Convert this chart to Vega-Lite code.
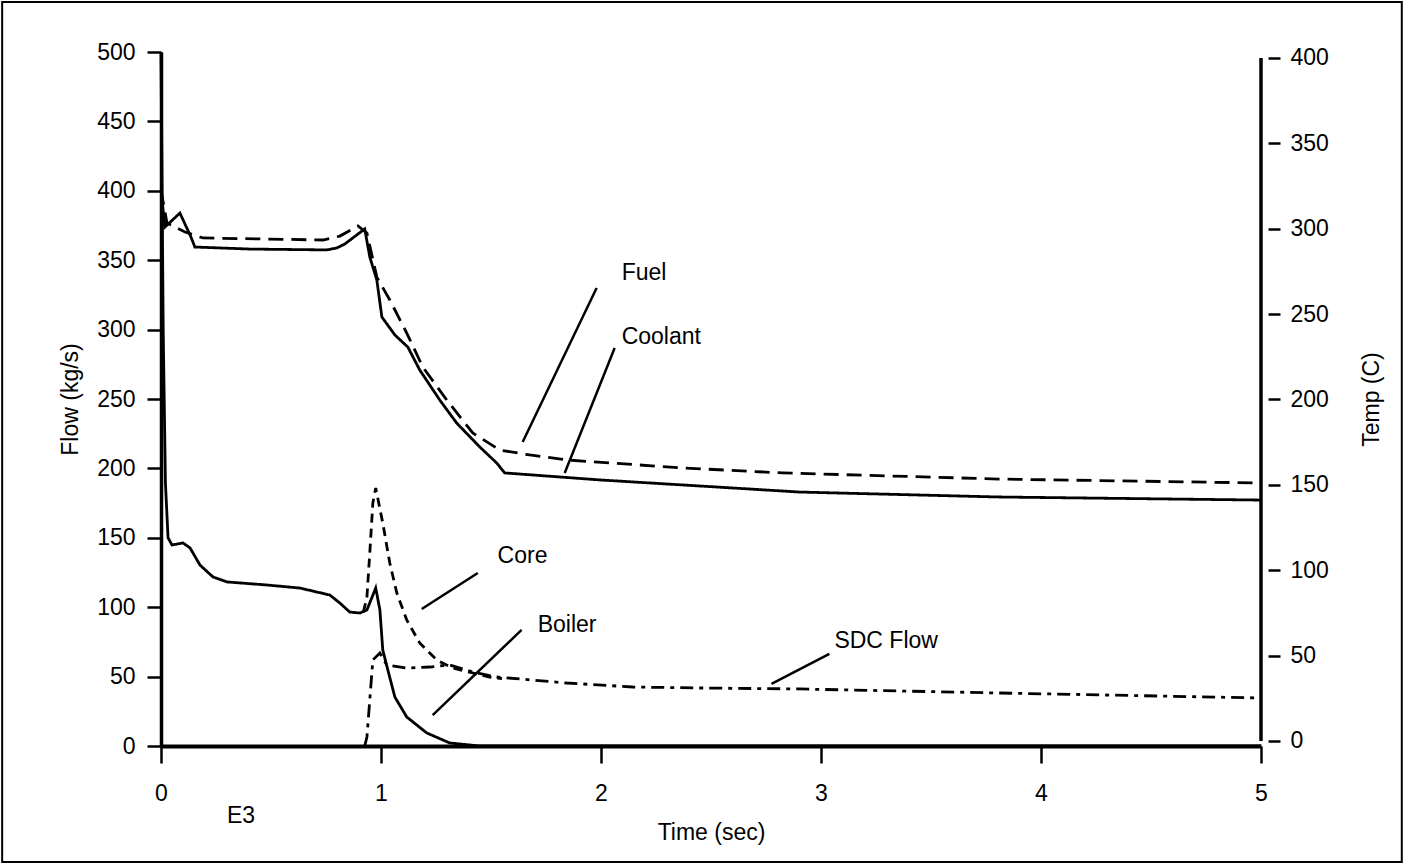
{
  "$schema": "https://vega.github.io/schema/vega-lite/v6.json",
  "width": 1100,
  "height": 694,
  "autosize": {"type": "none"},
  "padding": {"left": 161, "top": 52, "right": 144, "bottom": 118},
  "background": "white",
  "config": {
    "font": "Liberation Sans",
    "view": {"stroke": null},
    "axis": {
      "labelFont": "Liberation Sans",
      "titleFont": "Liberation Sans",
      "labelFontSize": 23,
      "titleFontSize": 23,
      "titleFontWeight": "normal",
      "labelColor": "black",
      "titleColor": "black",
      "domainColor": "black",
      "tickColor": "black",
      "labelFlush": false,
      "grid": false
    }
  },
  "datasets": {
    "temps": [
      {"series": "Coolant", "t": 0, "v": 322.7},
      {"series": "Coolant", "t": 0.018, "v": 301},
      {"series": "Coolant", "t": 0.086, "v": 309.2},
      {"series": "Coolant", "t": 0.136, "v": 295.2},
      {"series": "Coolant", "t": 0.154, "v": 289.3},
      {"series": "Coolant", "t": 0.404, "v": 288.1},
      {"series": "Coolant", "t": 0.754, "v": 287.6},
      {"series": "Coolant", "t": 0.8, "v": 288.8},
      {"series": "Coolant", "t": 0.836, "v": 291.1},
      {"series": "Coolant", "t": 0.926, "v": 299.9},
      {"series": "Coolant", "t": 0.949, "v": 283.5},
      {"series": "Coolant", "t": 0.981, "v": 270.0},
      {"series": "Coolant", "t": 1.004, "v": 248.3},
      {"series": "Coolant", "t": 1.063, "v": 237.8},
      {"series": "Coolant", "t": 1.122, "v": 230.7},
      {"series": "Coolant", "t": 1.176, "v": 217.3},
      {"series": "Coolant", "t": 1.267, "v": 199.7},
      {"series": "Coolant", "t": 1.344, "v": 186.2},
      {"series": "Coolant", "t": 1.449, "v": 172.2},
      {"series": "Coolant", "t": 1.526, "v": 162.8},
      {"series": "Coolant", "t": 1.562, "v": 157.0},
      {"series": "Coolant", "t": 1.994, "v": 152.9},
      {"series": "Coolant", "t": 2.902, "v": 145.8},
      {"series": "Coolant", "t": 3.81, "v": 142.9},
      {"series": "Coolant", "t": 5, "v": 141.1},
      {"series": "Fuel", "t": 0, "v": 322.7},
      {"series": "Fuel", "t": 0.027, "v": 303.4},
      {"series": "Fuel", "t": 0.109, "v": 298.1},
      {"series": "Fuel", "t": 0.191, "v": 294.6},
      {"series": "Fuel", "t": 0.736, "v": 293.4},
      {"series": "Fuel", "t": 0.813, "v": 295.7},
      {"series": "Fuel", "t": 0.895, "v": 301.6},
      {"series": "Fuel", "t": 0.936, "v": 297.5},
      {"series": "Fuel", "t": 0.981, "v": 271.7},
      {"series": "Fuel", "t": 1.04, "v": 258.3},
      {"series": "Fuel", "t": 1.117, "v": 238.9},
      {"series": "Fuel", "t": 1.19, "v": 219.0},
      {"series": "Fuel", "t": 1.299, "v": 199.7},
      {"series": "Fuel", "t": 1.417, "v": 180.4},
      {"series": "Fuel", "t": 1.54, "v": 170.4},
      {"series": "Fuel", "t": 1.676, "v": 167.5},
      {"series": "Fuel", "t": 1.844, "v": 164.6},
      {"series": "Fuel", "t": 2.371, "v": 159.9},
      {"series": "Fuel", "t": 2.825, "v": 157.0},
      {"series": "Fuel", "t": 3.81, "v": 153.4},
      {"series": "Fuel", "t": 5, "v": 151.1}
    ],
    "flows": [
      {"series": "Boiler", "t": 0, "v": 500},
      {"series": "Boiler", "t": 0.01, "v": 300},
      {"series": "Boiler", "t": 0.02, "v": 190},
      {"series": "Boiler", "t": 0.032, "v": 150},
      {"series": "Boiler", "t": 0.05, "v": 144.8},
      {"series": "Boiler", "t": 0.1, "v": 146.3},
      {"series": "Boiler", "t": 0.132, "v": 142.7},
      {"series": "Boiler", "t": 0.177, "v": 130.4},
      {"series": "Boiler", "t": 0.236, "v": 121.8},
      {"series": "Boiler", "t": 0.3, "v": 118.2},
      {"series": "Boiler", "t": 0.481, "v": 116.0},
      {"series": "Boiler", "t": 0.631, "v": 113.8},
      {"series": "Boiler", "t": 0.767, "v": 108.8},
      {"series": "Boiler", "t": 0.813, "v": 103.0},
      {"series": "Boiler", "t": 0.858, "v": 96.5},
      {"series": "Boiler", "t": 0.904, "v": 95.8},
      {"series": "Boiler", "t": 0.936, "v": 98.0},
      {"series": "Boiler", "t": 0.976, "v": 113.8},
      {"series": "Boiler", "t": 0.995, "v": 98.0},
      {"series": "Boiler", "t": 1.008, "v": 69.2},
      {"series": "Boiler", "t": 1.031, "v": 54.8},
      {"series": "Boiler", "t": 1.063, "v": 35.3},
      {"series": "Boiler", "t": 1.117, "v": 20.9},
      {"series": "Boiler", "t": 1.208, "v": 9.4},
      {"series": "Boiler", "t": 1.312, "v": 2.2},
      {"series": "Boiler", "t": 1.449, "v": 0},
      {"series": "Boiler", "t": 5, "v": 0},
      {"series": "Core", "t": 0.92, "v": 96.5},
      {"series": "Core", "t": 0.936, "v": 107.3},
      {"series": "Core", "t": 0.949, "v": 139.0},
      {"series": "Core", "t": 0.963, "v": 175.1},
      {"series": "Core", "t": 0.976, "v": 185.9},
      {"series": "Core", "t": 1.008, "v": 160.7},
      {"series": "Core", "t": 1.04, "v": 131.8},
      {"series": "Core", "t": 1.072, "v": 110.2},
      {"series": "Core", "t": 1.117, "v": 90.8},
      {"series": "Core", "t": 1.176, "v": 74.2},
      {"series": "Core", "t": 1.253, "v": 62.0},
      {"series": "Core", "t": 1.326, "v": 56.2},
      {"series": "Core", "t": 1.417, "v": 52.6},
      {"series": "Core", "t": 1.494, "v": 49.7},
      {"series": "Core", "t": 1.55, "v": 48.5},
      {"series": "SDC Flow", "t": 0.926, "v": 0},
      {"series": "SDC Flow", "t": 0.936, "v": 6.5},
      {"series": "SDC Flow", "t": 0.963, "v": 62},
      {"series": "SDC Flow", "t": 0.995, "v": 67},
      {"series": "SDC Flow", "t": 1.026, "v": 58.4},
      {"series": "SDC Flow", "t": 1.117, "v": 56.2},
      {"series": "SDC Flow", "t": 1.222, "v": 56.9},
      {"series": "SDC Flow", "t": 1.312, "v": 58.4},
      {"series": "SDC Flow", "t": 1.417, "v": 53.3},
      {"series": "SDC Flow", "t": 1.526, "v": 49.7},
      {"series": "SDC Flow", "t": 1.844, "v": 45.4},
      {"series": "SDC Flow", "t": 2.144, "v": 42.5},
      {"series": "SDC Flow", "t": 2.448, "v": 41.8},
      {"series": "SDC Flow", "t": 2.9, "v": 41.1},
      {"series": "SDC Flow", "t": 3.81, "v": 38.2},
      {"series": "SDC Flow", "t": 5, "v": 34.6}
    ],
    "leaders": [
      {"label": "Fuel", "t1": 1.644, "v1": 219.0, "t2": 1.98, "v2": 330.0},
      {"label": "Coolant", "t1": 1.835, "v1": 196.7, "t2": 2.062, "v2": 286.7},
      {"label": "Core", "t1": 1.185, "v1": 98.7, "t2": 1.44, "v2": 124.6},
      {"label": "Boiler", "t1": 1.235, "v1": 22.3, "t2": 1.639, "v2": 83.6},
      {"label": "SDC Flow", "t1": 2.775, "v1": 44.7, "t2": 3.038, "v2": 66.3}
    ],
    "labels": [
      {"label": "Fuel", "t": 2.094, "v": 340.8},
      {"label": "Coolant", "t": 2.094, "v": 294.7},
      {"label": "Core", "t": 1.53, "v": 136.9},
      {"label": "Boiler", "t": 1.712, "v": 87.2},
      {"label": "SDC Flow", "t": 3.061, "v": 75.6},
      {"label": "E3", "t": 0.3, "v": -50.4}
    ]
  },
  "layer": [
    {
      "data": {"name": "flows"},
      "mark": {"type": "line", "color": "black", "strokeWidth": 2.8},
      "encoding": {
        "x": {"field": "t", "type": "quantitative", "title": "Time (sec)", "scale": {"domain": [0, 5], "nice": false},
              "axis": {"orient": "bottom", "values": [0, 1, 2, 3, 4, 5], "format": "d", "labelFlush": false, "domainWidth": 4, "tickWidth": 2.5, "tickSize": 17, "labelPadding": 19, "titlePadding": 16}},
        "y": {"field": "v", "type": "quantitative", "scale": {"domain": [0, 500], "nice": false},
              "axis": {"orient": "left", "values": [0, 50, 100, 150, 200, 250, 300, 350, 400, 450, 500], "title": "Flow (kg/s)", "labelFlush": false, "domainWidth": 3.5, "tickWidth": 2.5, "tickSize": 14, "labelPadding": 12, "titlePadding": 14}},
        "strokeDash": {"field": "series", "type": "nominal", "legend": null,
                       "scale": {"domain": ["Boiler", "Core", "SDC Flow"], "range": [[1, 0], [9, 6], [13, 6, 4, 6]]}}
      }
    },
    {
      "data": {"name": "temps"},
      "mark": {"type": "line", "color": "black", "strokeWidth": 2.8},
      "encoding": {
        "x": {"field": "t", "type": "quantitative", "title": "Time (sec)"},
        "y": {"field": "v", "type": "quantitative", "scale": {"domain": [-2.93, 403.51], "nice": false, "zero": false},
              "axis": {"orient": "right", "values": [0, 50, 100, 150, 200, 250, 300, 350, 400], "title": "Temp (C)", "titleAngle": 270, "labelFlush": false, "offset": 7, "domain": false, "tickWidth": 2.5, "tickSize": 12, "labelPadding": 10, "titlePadding": 55}},
        "strokeDash": {"field": "series", "type": "nominal", "legend": null,
                       "scale": {"domain": ["Coolant", "Fuel"], "range": [[1, 0], [15, 8]]}}
      }
    },
    {
      "data": {"values": [{"edge": "right"}]},
      "mark": {"type": "rule", "color": "black", "strokeWidth": 3.5},
      "encoding": {
        "x": {"datum": 5, "type": "quantitative", "title": "Time (sec)"},
        "y": {"datum": 0, "type": "quantitative", "scale": {"domain": [-2.93, 403.51], "nice": false, "zero": false}, "axis": null},
        "y2": {"datum": 400}
      }
    },
    {
      "data": {"name": "leaders"},
      "mark": {"type": "rule", "color": "black", "strokeWidth": 2.5},
      "encoding": {
        "x": {"field": "t1", "type": "quantitative", "title": "Time (sec)"},
        "y": {"field": "v1", "type": "quantitative", "scale": {"domain": [0, 500], "nice": false}, "axis": null},
        "x2": {"field": "t2"},
        "y2": {"field": "v2"}
      }
    },
    {
      "data": {"name": "labels"},
      "mark": {"type": "text", "align": "left", "baseline": "middle", "fontSize": 23, "font": "Liberation Sans", "color": "black"},
      "encoding": {
        "x": {"field": "t", "type": "quantitative", "title": "Time (sec)"},
        "y": {"field": "v", "type": "quantitative", "scale": {"domain": [0, 500], "nice": false}, "axis": null},
        "text": {"field": "label"}
      }
    },
    {
      "data": {"values": [{"frame": "border"}]},
      "mark": {"type": "rect", "fillOpacity": 0, "stroke": "black", "strokeWidth": 2},
      "encoding": {
        "x": {"datum": -0.722, "type": "quantitative", "title": "Time (sec)"},
        "x2": {"datum": 5.64},
        "y": {"datum": 536, "type": "quantitative", "scale": {"domain": [0, 500], "nice": false}, "axis": null},
        "y2": {"datum": -83.6}
      }
    }
  ],
  "resolve": {"scale": {"y": "independent", "strokeDash": "independent"}}
}
